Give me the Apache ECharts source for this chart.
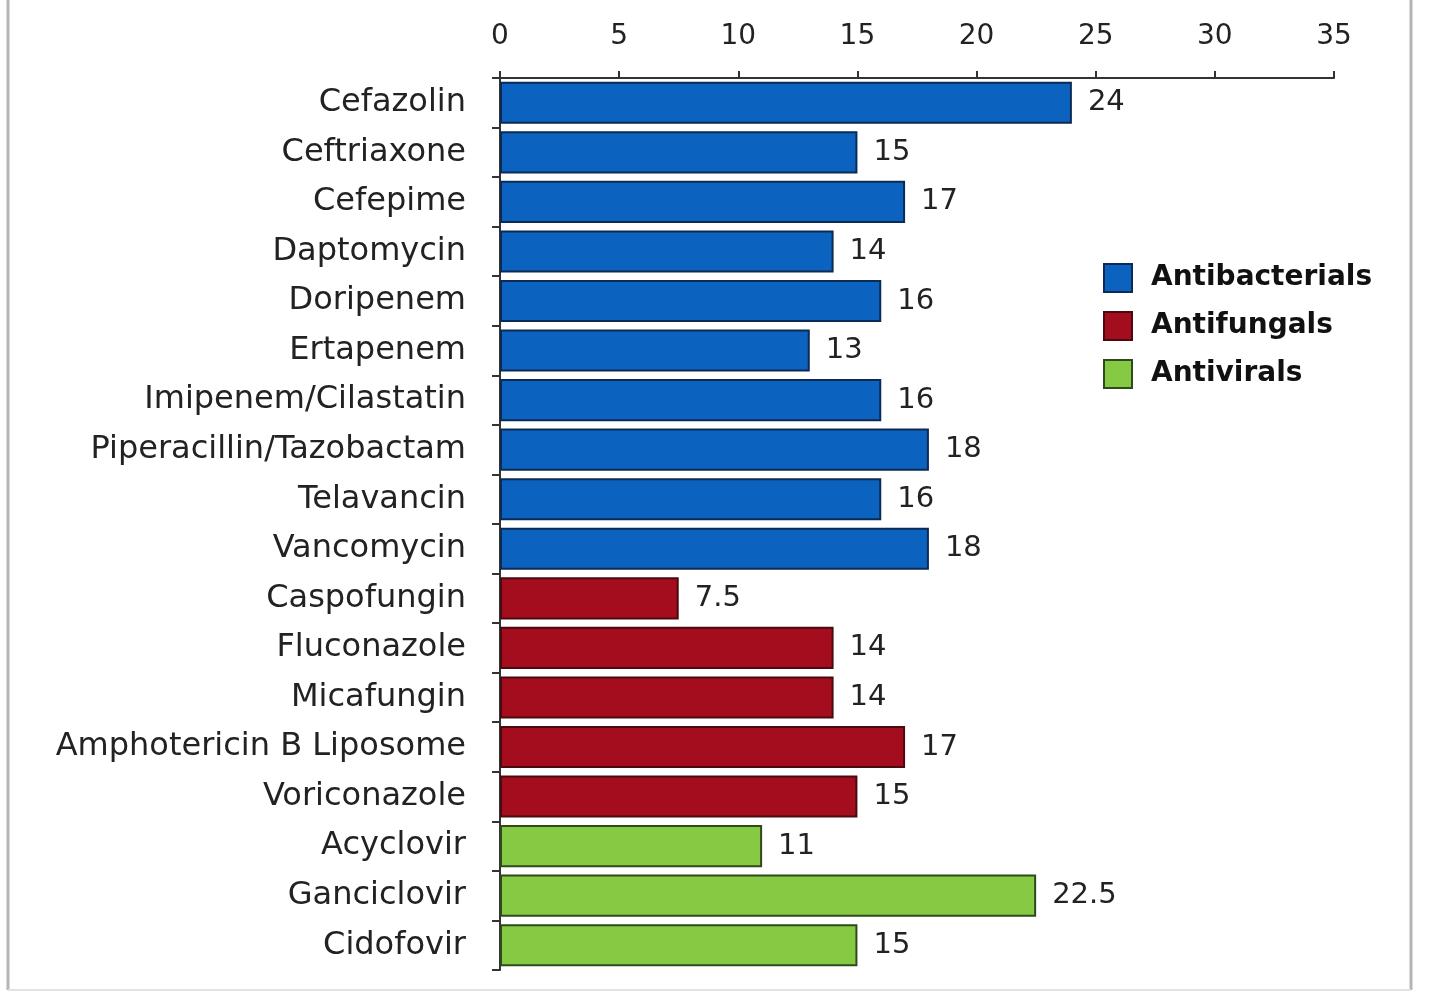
<!DOCTYPE html>
<html>
<head>
<meta charset="utf-8">
<script src="https://cdn.jsdelivr.net/npm/echarts@6/dist/echarts.min.js"></script>
<style>
  html, body { margin: 0; padding: 0; background: #fff; }
  #chart { width: 1439px; height: 993px; }
</style>
</head>
<body>
<div id="chart"></div>
<script>
// Drug names, top to bottom
const categories = [
  'Cefazolin', 'Ceftriaxone', 'Cefepime', 'Daptomycin', 'Doripenem', 'Ertapenem',
  'Imipenem/Cilastatin', 'Piperacillin/Tazobactam', 'Telavancin', 'Vancomycin',
  'Caspofungin', 'Fluconazole', 'Micafungin', 'Amphotericin B Liposome', 'Voriconazole',
  'Acyclovir', 'Ganciclovir', 'Cidofovir'
];
const values = [24, 15, 17, 14, 16, 13, 16, 18, 16, 18, 7.5, 14, 14, 17, 15, 11, 22.5, 15];
const groups = [
  'Antibacterials', 'Antibacterials', 'Antibacterials', 'Antibacterials', 'Antibacterials',
  'Antibacterials', 'Antibacterials', 'Antibacterials', 'Antibacterials', 'Antibacterials',
  'Antifungals', 'Antifungals', 'Antifungals', 'Antifungals', 'Antifungals',
  'Antivirals', 'Antivirals', 'Antivirals'
];
const groupNames = ['Antibacterials', 'Antifungals', 'Antivirals'];
const fills = ['#0b63bf', '#a30d1e', '#86c943'];
const borders = ['#0b2a55', '#4a0a10', '#2f4a1c'];

const FONT = 'DejaVu Sans';

const chart = echarts.init(document.getElementById('chart'));

// one series per drug class, stacked so each bar sits centred in its row
const series = groupNames.map((g, gi) => ({
  name: g,
  type: 'bar',
  stack: 'all',
  barCategoryGap: '15%',
  data: values.map((v, i) => (groups[i] === g ? v : '-')),
  itemStyle: { color: fills[gi], borderColor: borders[gi], borderWidth: 2 },
  label: {
    show: true,
    position: 'right',
    distance: 16,
    color: '#222',
    fontFamily: FONT,
    fontSize: 29
  }
}));

chart.setOption({
  backgroundColor: '#fff',
  animation: false,
  grid: { left: 500, top: 78, right: 105, bottom: 23, containLabel: false },
  xAxis: {
    type: 'value',
    position: 'top',
    min: 0,
    max: 35,
    interval: 5,
    axisLine: { show: true, lineStyle: { color: '#333', width: 2 } },
    axisTick: { show: true, length: 7, lineStyle: { color: '#333', width: 2 } },
    splitLine: { show: false },
    axisLabel: { color: '#222', fontFamily: FONT, fontSize: 28, margin: 27 }
  },
  yAxis: {
    type: 'category',
    inverse: true,
    data: categories,
    axisLine: { show: true, lineStyle: { color: '#333', width: 2 } },
    axisTick: { show: true, length: 8, lineStyle: { color: '#333', width: 2 } },
    axisLabel: { color: '#222', fontFamily: FONT, fontSize: 32, margin: 34 }
  },
  legend: {
    orient: 'vertical',
    left: 1098,
    top: 258,
    itemWidth: 28,
    itemHeight: 28,
    itemGap: 18,
    icon: 'rect',
    textStyle: { color: '#111', fontFamily: FONT, fontSize: 28, fontWeight: 'bold', lineHeight: 28, padding: [0, 0, 0, 14] },
    data: groupNames
  },
  graphic: [
    { type: 'line', shape: { x1: 8, y1: 0, x2: 8, y2: 990 }, style: { stroke: '#b5b5b5', lineWidth: 3 } },
    { type: 'line', shape: { x1: 1411, y1: 0, x2: 1411, y2: 990 }, style: { stroke: '#b5b5b5', lineWidth: 3 } },
    { type: 'line', shape: { x1: 8, y1: 990, x2: 1411, y2: 990 }, style: { stroke: '#e2e2e2', lineWidth: 2 } }
  ],
  series: series
});
</script>
</body>
</html>
